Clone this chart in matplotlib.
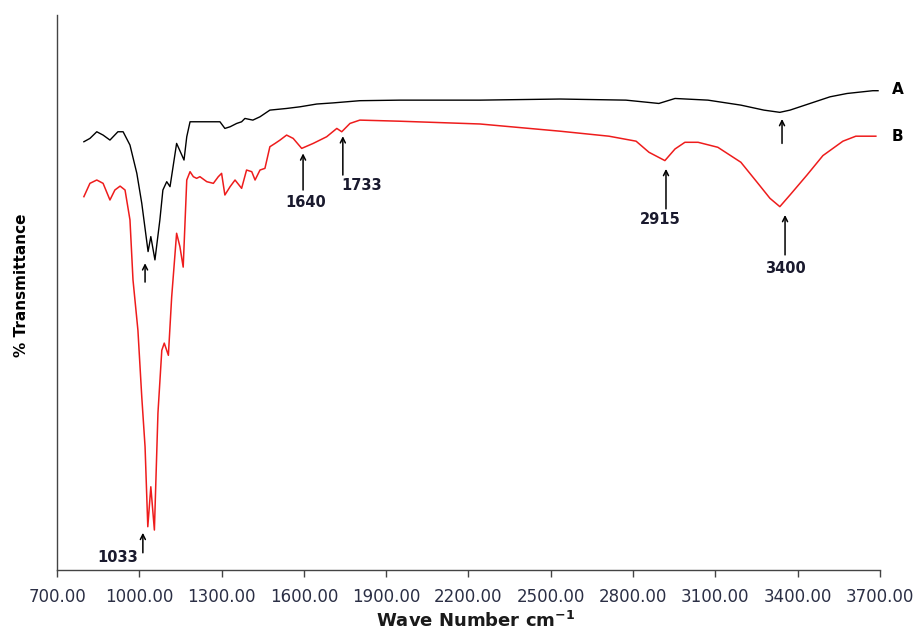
import matplotlib.pyplot as plt
import numpy as np

# FTIR spectra, wavenumber (cm-1) vs % transmittance
wn_a = [798, 820, 845, 868, 893, 922, 941, 966, 991, 1009, 1032, 1042, 1057,
        1075, 1086, 1100, 1112, 1136, 1155, 1163, 1173, 1185, 1209, 1246, 1294,
        1312, 1331, 1355, 1373, 1385, 1414, 1440, 1476, 1537, 1586, 1647, 1706,
        1804, 1950, 2242, 2534, 2774, 2894, 2953, 3073, 3193, 3277, 3335, 3372,
        3445, 3518, 3580, 3674, 3693]
t_a = [77.2, 77.8, 79.0, 78.4, 77.5, 79.0, 79.0, 76.6, 71.5, 66.1, 57.4, 60.1, 55.9,
       63.1, 68.5, 70.0, 69.1, 76.9, 74.8, 73.9, 78.1, 80.8, 80.8, 80.8, 80.8,
       79.6, 79.9, 80.5, 80.8, 81.4, 81.1, 81.7, 82.9, 83.2, 83.5, 84.0, 84.2,
       84.6, 84.7, 84.7, 84.9, 84.7, 84.1, 85.0, 84.7, 83.8, 82.9, 82.5, 82.9,
       84.1, 85.3, 85.9, 86.4, 86.4]

wn_b = [798, 820, 845, 868, 893, 911, 930, 948, 966, 977, 995, 1009, 1021, 1031,
        1042, 1055, 1068, 1082, 1091, 1106, 1118, 1136, 1148, 1160, 1173, 1185,
        1197, 1209, 1221, 1246, 1270, 1288, 1300, 1312, 1331, 1349, 1373, 1391,
        1410, 1422, 1440, 1458, 1476, 1495, 1513, 1537, 1561, 1592, 1634, 1683,
        1720, 1738, 1768, 1804, 1950, 2242, 2534, 2712, 2811, 2858, 2916, 2953,
        2989, 3037, 3109, 3193, 3252, 3299, 3335, 3372, 3434, 3492, 3565, 3612,
        3685]
t_b = [67.3, 69.7, 70.3, 69.7, 66.7, 68.5, 69.2, 68.5, 63.1, 52.3, 43.2, 31.2, 22.2, 7.8,
       15.0, 7.2, 28.3, 39.6, 40.9, 38.7, 49.2, 60.7, 58.3, 54.6, 70.3, 71.8,
       70.9, 70.6, 70.9, 70.0, 69.7, 70.9, 71.5, 67.6, 69.1, 70.3, 68.8, 72.1,
       71.8, 70.3, 72.1, 72.4, 76.3, 76.9, 77.5, 78.4, 77.8, 76.0, 76.9, 78.1,
       79.6, 79.0, 80.5, 81.1, 80.9, 80.4, 79.1, 78.2, 77.3, 75.3, 73.8, 75.9,
       77.1, 77.1, 76.2, 73.5, 69.9, 67.0, 65.5, 67.6, 71.2, 74.7, 77.3, 78.2,
       78.2]

# peak markers: x position, arrow head / tail (in %T)
arrow_x = [1021, 1013, 1597, 1742, 2920, 3354, 3343]
arrow_head = [55.3, 6.7, 75.1, 78.2, 72.3, 64.0, 81.3]
arrow_tail = [51.9, 3.1, 68.5, 71.2, 65.1, 56.8, 76.9]

peak_labels = ["1033", "1640", "1733", "2915", "3400"]
label_x = [922, 1608, 1812, 2898, 3357]
label_y = [2.3, 66.3, 69.4, 63.2, 54.4]

xticks = np.arange(700, 3701, 300)

fig = plt.figure(figsize=(9.15, 6.36), dpi=100)
ax = fig.add_axes([0.0623, 0.1038, 0.8994, 0.8722])

ax.plot(wn_a, t_a, color="black", lw=1.0)
ax.plot(wn_b, t_b, color="#ee1c1c", lw=1.1)

for x, h, t in zip(arrow_x, arrow_head, arrow_tail):
    ax.annotate("", xy=(x, h), xytext=(x, t),
                arrowprops=dict(arrowstyle="->", color="black", lw=1.1,
                                mutation_scale=9, shrinkA=0, shrinkB=0))

for s, x, y in zip(peak_labels, label_x, label_y):
    ax.text(x, y, s, ha="center", va="center", fontsize=10.5,
            fontweight="bold", color="#1a1a2e")

ax.text(3765, t_a[-1] + 0.2, "A", ha="center", va="center", fontsize=11,
        fontweight="bold", clip_on=False)
ax.text(3765, t_b[-1], "B", ha="center", va="center", fontsize=11,
        fontweight="bold", clip_on=False)

ax.set_xlim(700, 3700)
ax.set_ylim(0, 100)
ax.set_xticks(xticks)
ax.set_xticklabels([f"{v:.2f}" for v in xticks], fontsize=12, color="#2b2f45")
ax.set_yticks([])
ax.tick_params(axis="x", direction="out", length=5, width=1, color="#444444", pad=8)

for side in ["top", "right"]:
    ax.spines[side].set_visible(False)
for side in ["left", "bottom"]:
    ax.spines[side].set_color("#444444")
    ax.spines[side].set_linewidth(1.0)

fig.text(0.024, 0.552, "% Transmittance", rotation=90, ha="center", va="center",
         fontsize=11, fontweight="bold")
fig.text(0.52, 0.024, r"Wave Number cm$^{\mathbf{-1}}$", ha="center", va="center",
         fontsize=13, fontweight="bold", color="#1a1a1a")

fig.savefig("out.png", dpi=100)
